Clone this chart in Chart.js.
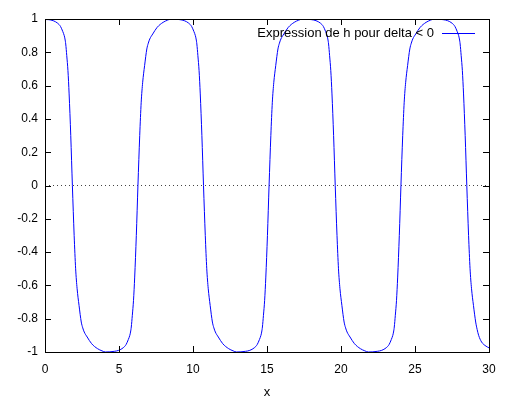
<!DOCTYPE html>
<html>
<head>
<meta charset="utf-8">
<script src="https://cdn.jsdelivr.net/npm/chart.js@4/dist/chart.umd.min.js"></script>
<style>
html, body { margin: 0; padding: 0; background: #fff; }
</style>
</head>
<body>
<canvas id="grafH" width="523" height="409"></canvas>
<script>
// ===== DONNEES =====
const abscisses = [
    0, 0.25, 0.55, 0.85, 1.05, 1.20, 1.30, 1.35, 1.40, 1.47, 1.55, 1.63, 1.74, 1.85, 1.97, 2.07, 2.17, 2.30, 2.45, 2.55, 2.65, 2.85, 3.15, 3.55, 3.85,
    4.08, 4.68, 4.98, 5.28, 5.48, 5.63, 5.73, 5.78, 5.83, 5.90, 5.98, 6.06, 6.17, 6.28, 6.40, 6.50, 6.60, 6.73, 6.88, 6.98, 7.08, 7.28, 7.58, 7.98, 8.28,
    8.51, 9.11, 9.41, 9.71, 9.91, 10.06, 10.16, 10.21, 10.26, 10.33, 10.41, 10.49, 10.60, 10.71, 10.83, 10.93, 11.03, 11.16, 11.31, 11.41, 11.51, 11.71, 12.01, 12.41, 12.71,
    12.94, 13.54, 13.84, 14.14, 14.34, 14.49, 14.59, 14.64, 14.69, 14.76, 14.84, 14.92, 15.03, 15.14, 15.26, 15.36, 15.46, 15.59, 15.74, 15.84, 15.94, 16.14, 16.44, 16.84, 17.14,
    17.41, 18.01, 18.31, 18.61, 18.81, 18.96, 19.06, 19.11, 19.16, 19.23, 19.31, 19.39, 19.50, 19.61, 19.73, 19.83, 19.93, 20.06, 20.21, 20.31, 20.41, 20.61, 20.91, 21.31, 21.61,
    21.85, 22.45, 22.75, 23.05, 23.25, 23.40, 23.50, 23.55, 23.60, 23.67, 23.75, 23.83, 23.94, 24.05, 24.17, 24.27, 24.37, 24.50, 24.65, 24.75, 24.85, 25.05, 25.35, 25.75, 26.05,
    26.30, 26.90, 27.20, 27.50, 27.70, 27.85, 27.95, 28.00, 28.05, 28.12, 28.20, 28.28, 28.39, 28.50, 28.62, 28.72, 28.82, 28.95, 29.10, 29.20, 29.30, 29.50, 29.80, 30
]
const valeursH = [
    0.997, 0.996, 0.99, 0.975, 0.955, 0.925, 0.90, 0.88, 0.85, 0.78, 0.69, 0.55, 0.30, 0, -0.30, -0.50, -0.62, -0.72, -0.82, -0.855, -0.88, -0.91, -0.95, -0.98, -0.993,
    -1, -0.996, -0.99, -0.975, -0.955, -0.925, -0.90, -0.88, -0.85, -0.78, -0.69, -0.55, -0.30, 0, 0.30, 0.50, 0.62, 0.72, 0.82, 0.855, 0.88, 0.91, 0.95, 0.98, 0.993,
    1, 0.996, 0.99, 0.975, 0.955, 0.925, 0.90, 0.88, 0.85, 0.78, 0.69, 0.55, 0.30, 0, -0.30, -0.50, -0.62, -0.72, -0.82, -0.855, -0.88, -0.91, -0.95, -0.98, -0.993,
    -1, -0.996, -0.99, -0.975, -0.955, -0.925, -0.90, -0.88, -0.85, -0.78, -0.69, -0.55, -0.30, 0, 0.30, 0.50, 0.62, 0.72, 0.82, 0.855, 0.88, 0.91, 0.95, 0.98, 0.993,
    1, 0.996, 0.99, 0.975, 0.955, 0.925, 0.90, 0.88, 0.85, 0.78, 0.69, 0.55, 0.30, 0, -0.30, -0.50, -0.62, -0.72, -0.82, -0.855, -0.88, -0.91, -0.95, -0.98, -0.993,
    -1, -0.996, -0.99, -0.975, -0.955, -0.925, -0.90, -0.88, -0.85, -0.78, -0.69, -0.55, -0.30, 0, 0.30, 0.50, 0.62, 0.72, 0.82, 0.855, 0.88, 0.91, 0.95, 0.98, 0.993,
    1, 0.996, 0.99, 0.975, 0.955, 0.925, 0.90, 0.88, 0.85, 0.78, 0.69, 0.55, 0.30, 0, -0.30, -0.50, -0.62, -0.72, -0.82, -0.865, -0.90, -0.94, -0.965, -0.975
]
const zeroX = [0, 30]
const zeroY = [0, 0]
const ticksX = [0, 5, 10, 15, 20, 25, 30]
const ticksY = [-1, -0.8, -0.6, -0.4, -0.2, 0, 0.2, 0.4, 0.6, 0.8, 1]
const etiquetteH = "Expression de h pour delta < 0"
const titreX = "x"

const POLICE = "'Liberation Sans', Arial, sans-serif"

// cadre gnuplot : bordure, graduations vers l'intérieur, légende à droite
const cadrePlugin = {
    id: "cadre",
    afterDatasetsDraw(chart) {
        const { ctx, chartArea: a, scales } = chart
        const long = 6
        ctx.save()
        ctx.strokeStyle = "#000"
        ctx.lineWidth = 1
        ctx.beginPath()
        ticksY.forEach(v => {
            const y = Math.round(scales.y.getPixelForValue(v)) + 0.5
            ctx.moveTo(a.left, y); ctx.lineTo(a.left + long, y)
            ctx.moveTo(a.right, y); ctx.lineTo(a.right - long, y)
        })
        ticksX.forEach(v => {
            const x = Math.round(scales.x.getPixelForValue(v)) + 0.5
            ctx.moveTo(x, a.bottom); ctx.lineTo(x, a.bottom - long)
            ctx.moveTo(x, a.top); ctx.lineTo(x, a.top + long)
        })
        ctx.stroke()
        ctx.strokeRect(a.left + 0.5, a.top + 0.5, a.right - a.left, a.bottom - a.top)

        // légende
        const ds = chart.data.datasets[0]
        const yLeg = a.top + 14
        ctx.font = "13px " + POLICE
        ctx.fillStyle = "#000"
        ctx.textAlign = "right"
        ctx.textBaseline = "middle"
        ctx.fillText(ds.label, a.right - 55, yLeg)
        ctx.strokeStyle = ds.borderColor
        ctx.beginPath()
        ctx.moveTo(a.right - 47, yLeg + 0.5)
        ctx.lineTo(a.right - 14, yLeg + 0.5)
        ctx.stroke()
        ctx.restore()
    }
}

const ctxH = document.getElementById("grafH").getContext("2d")
new Chart(ctxH, {
    type: "line",
    data: {
        datasets: [{
            label: etiquetteH,
            data: abscisses.map((x, i) => ({ x: x, y: valeursH[i] })),
            borderColor: "#0000ff",
            borderWidth: 1,
            pointRadius: 0,
            cubicInterpolationMode: "monotone",
            fill: false
        }, {
            label: "zero",
            data: zeroX.map((x, i) => ({ x: x, y: zeroY[i] })),
            borderColor: "#444",
            borderWidth: 1,
            borderDash: [1, 3],
            pointRadius: 0,
            fill: false
        }]
    },
    options: {
        responsive: false,
        animation: false,
        layout: { padding: { top: 19, right: 34, left: 0, bottom: 0 } },
        plugins: {
            legend: { display: false },
            tooltip: { enabled: false }
        },
        scales: {
            x: {
                type: "linear",
                min: 0, max: 30,
                afterBuildTicks: s => { s.ticks = ticksX.map(v => ({ value: v })) },
                afterFit: s => { s.height = 57 },
                grid: { display: false, drawTicks: false },
                border: { display: false },
                ticks: { color: "#000", padding: 10, maxRotation: 0, font: { family: POLICE, size: 12 } },
                title: { display: true, text: titreX, color: "#000", padding: { top: 0, bottom: 9 }, font: { family: POLICE, size: 13 } }
            },
            y: {
                min: -1, max: 1,
                afterBuildTicks: s => { s.ticks = ticksY.map(v => ({ value: v })) },
                afterFit: s => { s.width = 45 },
                grid: { display: false, drawTicks: false },
                border: { display: false },
                ticks: { color: "#000", padding: 7, font: { family: POLICE, size: 12 }, callback: v => String(v) }
            }
        }
    },
    plugins: [cadrePlugin]
})
</script>
</body>
</html>
